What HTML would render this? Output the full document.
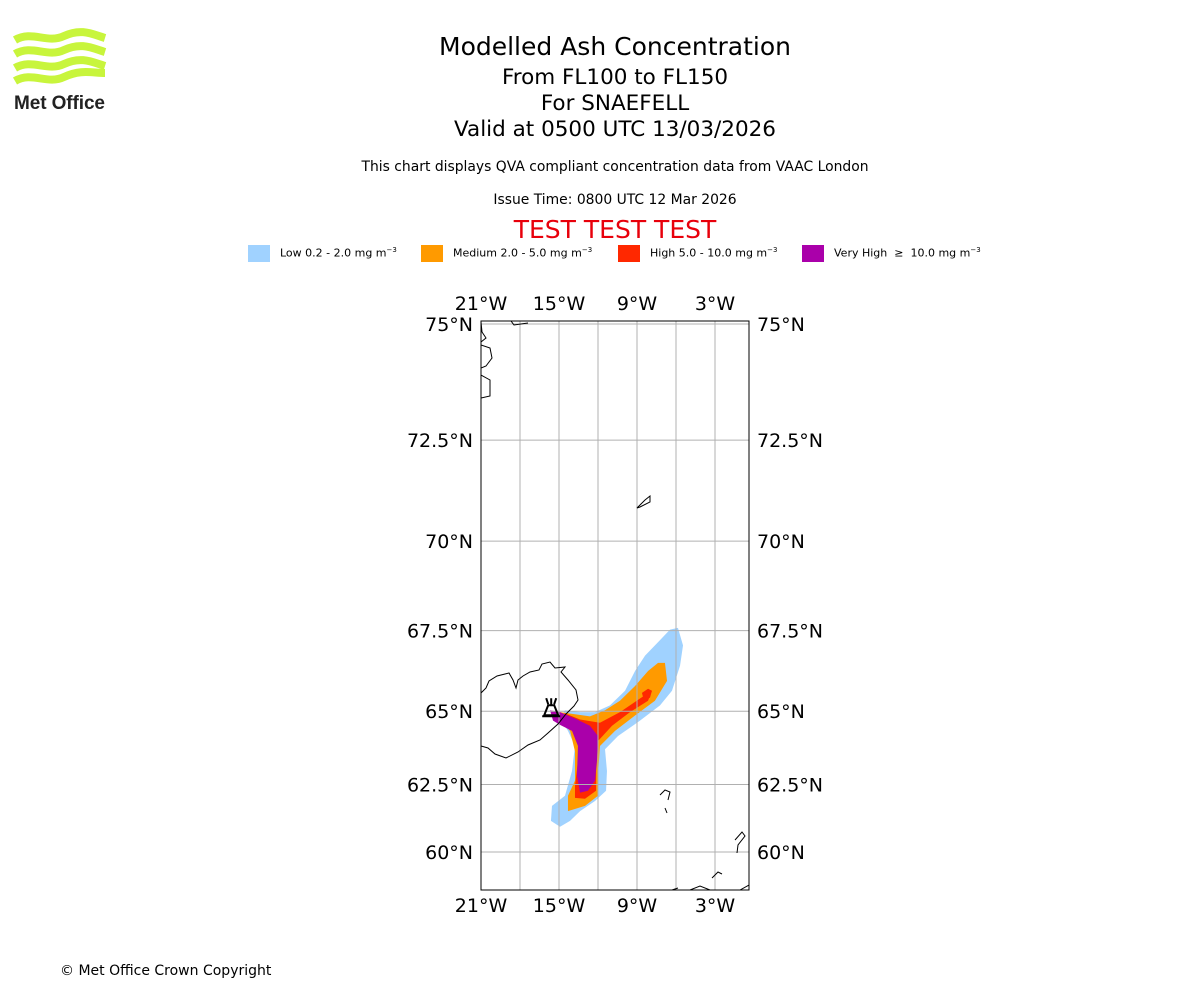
<!DOCTYPE html>
<html><head><meta charset="utf-8"><style>
body{margin:0;width:1200px;height:1000px;background:#fff;font-family:"DejaVu Sans","Liberation Sans",sans-serif;overflow:hidden;position:relative}
.t{position:absolute;left:0;width:1230px;text-align:center;color:#000;white-space:nowrap}
</style></head><body>
<svg style="position:absolute;left:12px;top:28px" width="100" height="86" viewBox="0 0 100 86">
<g fill="none" stroke="#c8f53c" stroke-width="8">
<path d="M3 12 C20 2,35 16,52 8 S80 6,93 10"/>
<path d="M3 26 C20 16,35 30,52 22 S80 20,93 24"/>
<path d="M3 40 C20 30,35 44,52 36 S80 34,93 38"/>
<path d="M3 53 C20 43,35 57,52 49 S80 45,93 45"/>
</g>
<text x="2" y="81" font-family="Liberation Sans,sans-serif" font-weight="bold" font-size="19" textLength="91" fill="#222">Met Office</text>
</svg>
<div class="t" style="top:32px;font-size:25px">Modelled Ash Concentration</div>
<div class="t" style="top:65px;font-size:21.5px">From FL100 to FL150</div>
<div class="t" style="top:91px;font-size:21.5px">For SNAEFELL</div>
<div class="t" style="top:117px;font-size:21.5px">Valid at 0500 UTC 13/03/2026</div>
<div class="t" style="top:159px;font-size:13.9px">This chart displays QVA compliant concentration data from VAAC London</div>
<div class="t" style="top:192px;font-size:13.9px">Issue Time: 0800 UTC 12 Mar 2026</div>
<div class="t" style="top:215px;font-size:25px;color:#e8000b">TEST TEST TEST</div>
<div style="position:absolute;top:245px;left:248px;font-size:11px;height:18px">
<div style="position:absolute;left:0;width:170px"><span style="position:absolute;width:22px;height:17px;background:#a0d2ff"></span><span style="position:absolute;left:32px;top:1px;white-space:nowrap">Low 0.2 - 2.0 mg m<sup style="font-size:7px">−3</sup></span></div>
<div style="position:absolute;left:173px;width:190px"><span style="position:absolute;width:22px;height:17px;background:#ff9a00"></span><span style="position:absolute;left:32px;top:1px;white-space:nowrap">Medium 2.0 - 5.0 mg m<sup style="font-size:7px">−3</sup></span></div>
<div style="position:absolute;left:370px;width:180px"><span style="position:absolute;width:22px;height:17px;background:#ff2800"></span><span style="position:absolute;left:32px;top:1px;white-space:nowrap">High 5.0 - 10.0 mg m<sup style="font-size:7px">−3</sup></span></div>
<div style="position:absolute;left:554px;width:200px"><span style="position:absolute;width:22px;height:17px;background:#aa00aa"></span><span style="position:absolute;left:32px;top:1px;white-space:nowrap">Very High &nbsp;≥ &nbsp;10.0 mg m<sup style="font-size:7px">−3</sup></span></div>
</div>
<svg id="map" style="position:absolute;left:0;top:0" width="1200" height="1000"></svg>
<div class="t" style="top:963px;left:60px;width:auto;text-align:left;font-size:14px">© Met Office Crown Copyright</div>
<script>
const lonTicks=[-21,-18,-15,-12,-9,-6,-3];
const lonLabels=[-21,-15,-9,-3];
const latTicks=[75,72.5,70,67.5,65,62.5,60];
const lowPoly=[[-5.85,67.58],[-5.46,67.06],[-5.69,66.44],[-6.31,65.66],[-7.23,65.19],[-8.77,64.69],[-10.46,64.18],[-11.46,63.73],[-11.31,62.98],[-11.38,62.28],[-12.23,61.91],[-13.38,61.54],[-14.15,61.18],[-14.92,60.96],[-15.62,61.18],[-15.54,61.73],[-14.54,62.1],[-14.0,62.98],[-13.77,63.84],[-14.31,64.35],[-14.92,64.76],[-14.54,65.03],[-13.38,64.97],[-12.23,64.97],[-11.08,65.19],[-9.92,65.66],[-9.15,66.28],[-8.38,66.75],[-7.23,67.22],[-6.46,67.53]];
const medPoly=[[-6.85,66.53],[-6.69,65.97],[-7.62,65.34],[-9.15,64.86],[-10.69,64.35],[-11.85,63.84],[-12.0,62.81],[-12.0,62.1],[-13.0,61.73],[-14.31,61.54],[-14.31,62.1],[-13.77,62.64],[-13.77,63.66],[-14.15,64.35],[-14.92,64.69],[-14.92,64.97],[-13.77,64.9],[-12.62,64.83],[-11.46,65.03],[-10.31,65.34],[-9.15,65.81],[-8.15,66.28],[-7.38,66.53]];
const highPoly=[[-7.85,65.66],[-8.15,65.34],[-9.54,64.97],[-10.92,64.52],[-12.0,64.01],[-12.15,63.15],[-12.15,62.28],[-13.0,61.99],[-13.77,62.02],[-13.77,62.46],[-13.54,63.32],[-13.54,64.01],[-14.15,64.52],[-14.92,64.76],[-14.54,64.93],[-13.38,64.73],[-11.85,64.62],[-10.31,64.97],[-8.77,65.41]];
const highBlob=[[-8.62,65.59],[-8.15,65.72],[-7.85,65.66],[-8.0,65.44],[-8.46,65.34]];
const vhighPoly=[[-15.69,65.03],[-14.92,64.97],[-13.77,64.76],[-12.62,64.52],[-12.0,64.18],[-12.08,63.32],[-12.23,62.64],[-12.77,62.28],[-13.38,62.21],[-13.62,62.81],[-13.54,63.84],[-14.0,64.35],[-14.92,64.55],[-15.46,64.69]];
const volcano=[-15.6,65.0];
const NS='http://www.w3.org/2000/svg';
const svg=document.getElementById('map');
const X0=481,X1=749,Y0=321,Y1=890;
function merc(l){return Math.log(Math.tan(Math.PI/4+l*Math.PI/360));}
function px(lon){return X0+(lon+21)*13;}
function py(lat){return 324+(merc(75)-merc(lat))*743;}
function el(t,a){const e=document.createElementNS(NS,t);for(const k in a)e.setAttribute(k,a[k]);svg.appendChild(e);return e;}
const clip=el('clipPath',{id:'c'});
const cr=document.createElementNS(NS,'rect');cr.setAttribute('x',X0);cr.setAttribute('y',Y0);cr.setAttribute('width',X1-X0);cr.setAttribute('height',Y1-Y0);clip.appendChild(cr);
function poly(p,fill,name){const e=el('polygon',{points:p.map(q=>px(q[0])+','+py(q[1])).join(' '),fill:fill,'clip-path':'url(#c)'});

}
poly(lowPoly,'#a0d2ff','ash-low');
poly(medPoly,'#ff9a00','ash-medium');
poly(highPoly,'#ff2800','ash-high');
poly(highBlob,'#ff2800','ash-high-blob');
poly(vhighPoly,'#aa00aa','ash-very-high');
lonTicks.forEach(l=>{const e=el('line',{x1:px(l),x2:px(l),y1:Y0,y2:Y1,stroke:'#b0b0b0','stroke-width':1});

});
latTicks.forEach(l=>{const e=el('line',{x1:X0,x2:X1,y1:py(l),y2:py(l),stroke:'#b0b0b0','stroke-width':1});


[[X0-8,'end'],[X1+8,'start']].forEach(s=>{const t=el('text',{x:s[0],y:py(l)+7,'text-anchor':s[1],'font-size':19,fill:'#000'});t.textContent=l+'°N';

});});
lonLabels.forEach(l=>{[[Y0-11],[Y1+22]].forEach(s=>{const t=el('text',{x:px(l),y:s[0],'text-anchor':'middle','font-size':19,fill:'#000'});t.textContent=Math.abs(l)+'°W';

});});
const coast=[
"M481,693 L486,688 L489,681 L497,676 L505,674 L509,673 L513,680 L516,688 L518,680 L523,676 L530,672 L539,670 L542,664 L550,662 L555,668 L565,667 L561,672 L568,680 L576,690 L578,700 L574,706 L566,714 L558,724 L548,733 L540,740 L528,745 L518,752 L506,758 L495,754 L488,748 L481,746",
"M637,508 L645,500 L650,496 L650,502 L640,507 Z",
"M481,322 L482,332 L486,338 L481,342 M481,345 L490,348 L492,358 L486,366 L481,368 M481,375 L490,380 L490,396 L481,398 M511,321 L514,325 L528,323",
"M660,795 L665,790 L670,792 L668,800 M665,808 L667,813 M735,840 L742,832 L745,836 L738,845 L737,853 M712,878 L718,872 L722,874 M672,890 L678,888 M690,890 L700,886 L710,890 M740,890 L749,885"];
coast.forEach(d=>{const e=el('path',{d:d,fill:'none',stroke:'#000','stroke-width':1,'clip-path':'url(#c)'});

});
const vx=px(volcano[0]),vy=py(volcano[1]);
const v=el('path',{d:`M${vx-3},${vy-6} L${vx+3},${vy-6} L${vx+7},${vy+4} L${vx-7},${vy+4} Z M${vx-9},${vy+5} L${vx+9},${vy+5} M${vx-3},${vy-7} L${vx-5},${vy-13} M${vx+3},${vy-7} L${vx+5},${vy-13} M${vx},${vy-7} L${vx},${vy-13}`,fill:'none',stroke:'#000','stroke-width':2});


const fr=el('rect',{x:X0,y:Y0,width:X1-X0,height:Y1-Y0,fill:'none',stroke:'#000','stroke-width':1});


</script>
</body></html>
